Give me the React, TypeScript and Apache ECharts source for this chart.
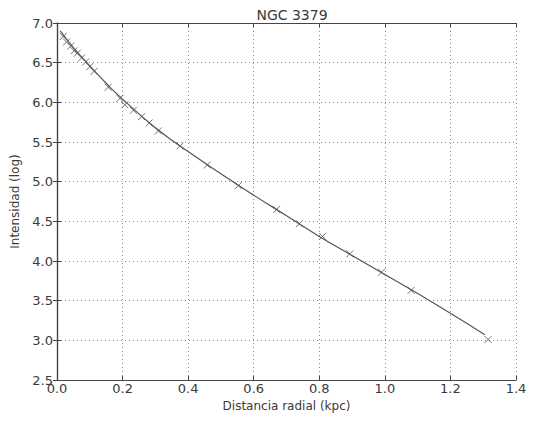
import React, { useEffect, useRef } from "react";
import * as echarts from "echarts";

const titleText = "NGC 3379";
const xName = "Distancia radial (kpc)";
const yName = "Intensidad (log)";

// fitted curve
const fitX = [0.01, 0.05, 0.1, 0.15, 0.2, 0.3, 0.4, 0.5, 0.6, 0.7, 0.8, 0.9, 1.0, 1.1, 1.2, 1.305];
const fitY = [6.9, 6.69, 6.46, 6.24, 6.04, 5.68, 5.38, 5.1, 4.83, 4.57, 4.31, 4.07, 3.83, 3.59, 3.34, 3.07];

// observed points (x markers)
const obsX = [0.019, 0.029, 0.042, 0.052, 0.062, 0.075, 0.088, 0.1, 0.113, 0.156, 0.192, 0.207, 0.233, 0.258, 0.281, 0.309, 0.375, 0.458, 0.553, 0.67, 0.739, 0.81, 0.893, 0.99, 1.08, 1.315];
const obsY = [6.83, 6.76, 6.71, 6.65, 6.62, 6.56, 6.51, 6.45, 6.39, 6.19, 6.05, 5.97, 5.9, 5.82, 5.74, 5.64, 5.45, 5.21, 4.95, 4.65, 4.47, 4.31, 4.09, 3.86, 3.63, 3.01];

const textColor = "#3a3a3a";
const font = "DejaVu Sans";

export default function App() {
  const ref = useRef<HTMLDivElement>(null);
  useEffect(() => {
    const chart = echarts.init(ref.current!, null, { renderer: "svg" });
    const axisLine = { show: true, lineStyle: { color: "#444", width: 1.2 } };
    const tick = { show: true, inside: true, length: 4, lineStyle: { color: "#444" } };
    const grid = { show: true, lineStyle: { color: "#888", type: [1, 3] as any, width: 1 } };
    chart.setOption({
      animation: false,
      backgroundColor: "#fff",
      title: {
        text: titleText,
        left: 287,
        textAlign: "center",
        top: 3,
        textStyle: { fontFamily: font, fontSize: 14, fontWeight: "normal", color: textColor },
      },
      grid: { left: 57, right: 17, top: 23, bottom: 42 },
      xAxis: [
        {
          type: "value", min: 0, max: 1.4, interval: 0.2,
          name: xName, nameLocation: "middle", nameGap: 13,
          nameTextStyle: { fontFamily: font, fontSize: 12, color: textColor, verticalAlign: "top" },
          axisLine, axisTick: tick, splitLine: grid,
          axisLabel: { fontFamily: font, fontSize: 13, color: textColor, margin: 2, formatter: (v: number) => v.toFixed(1) },
        },
        {
          type: "value", position: "top", min: 0, max: 1.4, interval: 0.2,
          axisLine, axisTick: tick, splitLine: { show: false }, axisLabel: { show: false },
        },
      ],
      yAxis: [
        {
          type: "value", min: 2.5, max: 7.0, interval: 0.5,
          name: yName, nameLocation: "middle", nameGap: 30,
          nameTextStyle: { fontFamily: font, fontSize: 12, color: textColor },
          axisLine, axisTick: tick, splitLine: grid,
          axisLabel: { fontFamily: font, fontSize: 13, color: textColor, margin: 4, formatter: (v: number) => v.toFixed(1) },
        },
        {
          type: "value", position: "right", min: 2.5, max: 7.0, interval: 0.5,
          axisLine, axisTick: tick, splitLine: { show: false }, axisLabel: { show: false },
        },
      ],
      series: [
        {
          type: "line",
          data: fitX.map((x, i) => [x, fitY[i]]),
          smooth: true,
          showSymbol: false,
          lineStyle: { color: "#555", width: 1.2 },
          z: 2,
        },
        {
          type: "scatter",
          data: obsX.map((x, i) => [x, obsY[i]]),
          symbol: "path://M0,0L10,10M10,0L0,10",
          symbolSize: 7,
          itemStyle: { color: "none", borderColor: "#555", borderWidth: 1 },
          z: 3,
        },
      ],
    });
    return () => chart.dispose();
  }, []);
  return <div ref={ref} style={{ width: 533, height: 422, position: "absolute", left: 0, top: 0 }} />;
}
